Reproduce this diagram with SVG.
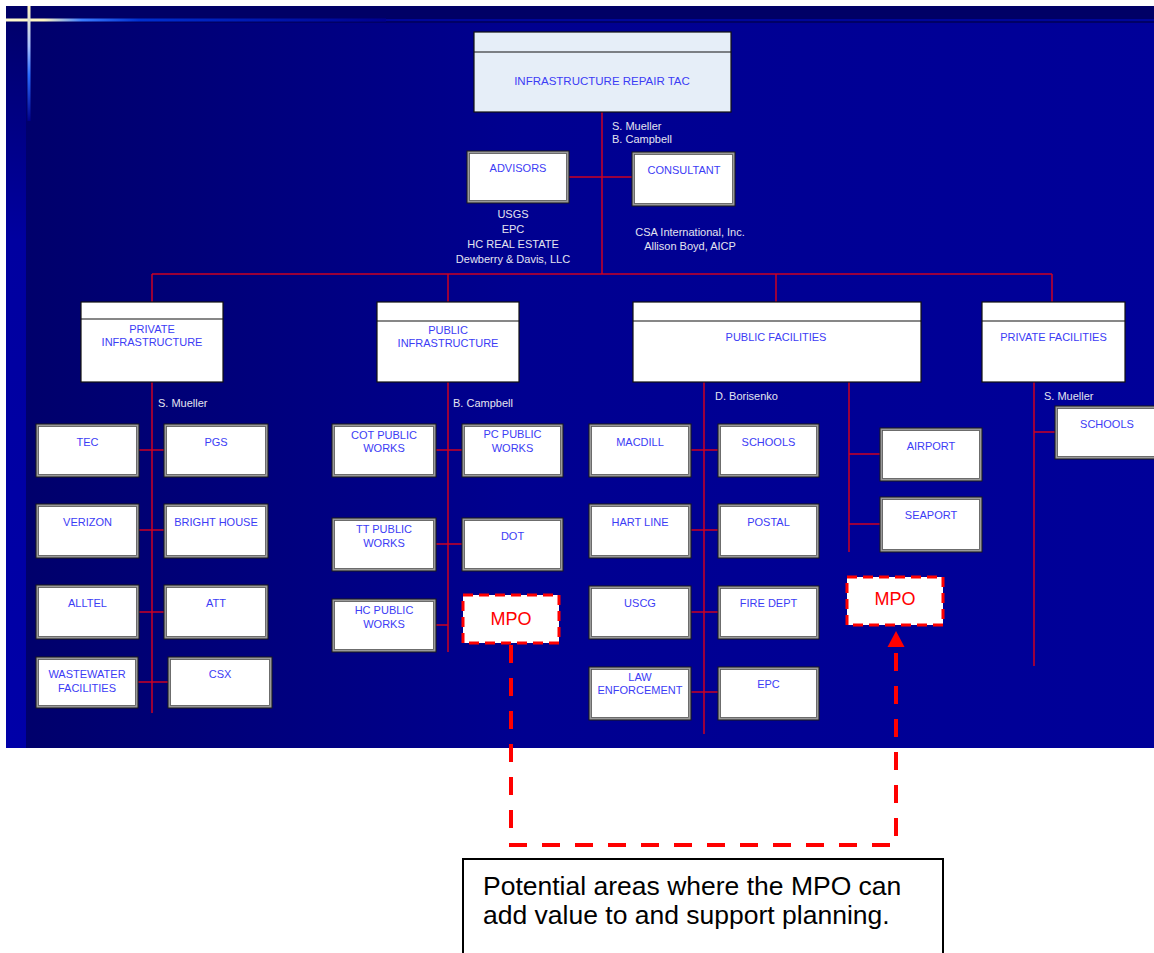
<svg xmlns="http://www.w3.org/2000/svg" width="1154" height="953" viewBox="0 0 1154 953">
<defs>
<linearGradient id="bg" x1="0" y1="0" x2="1" y2="0">
<stop offset="0" stop-color="#00006a"/>
<stop offset="0.45" stop-color="#000090"/>
<stop offset="1" stop-color="#000099"/>
</linearGradient>
<linearGradient id="strip" x1="0" y1="0" x2="0" y2="1">
<stop offset="0" stop-color="#00006c"/>
<stop offset="0.3" stop-color="#0000a0"/>
<stop offset="1" stop-color="#0000a8"/>
</linearGradient>
<linearGradient id="hglow" x1="0" y1="0" x2="1" y2="0">
<stop offset="0" stop-color="#fffbd0"/>
<stop offset="0.1" stop-color="#fff6c0"/>
<stop offset="0.2" stop-color="#3b7cff"/>
<stop offset="0.35" stop-color="#0030d0"/>
<stop offset="1" stop-color="#000090"/>
</linearGradient>
<linearGradient id="vglow" x1="0" y1="0" x2="0" y2="1">
<stop offset="0" stop-color="#fff6c0"/>
<stop offset="0.35" stop-color="#a8c0ff"/>
<stop offset="0.6" stop-color="#2a6cff"/>
<stop offset="1" stop-color="#00008a"/>
</linearGradient>
<style>
.o{fill:#9a9a9a;stroke:#1a1a1a;stroke-width:1}
.i{fill:#ffffff;stroke:#555555;stroke-width:0.8}
.h{fill:#ffffff;stroke:#111111;stroke-width:1.2}
.dv{stroke:#111111;stroke-width:1.2}
.t{font-family:"Liberation Sans",Arial,sans-serif;font-size:11px;fill:#3c3cf5;text-anchor:middle}
.w{font-family:"Liberation Sans",Arial,sans-serif;font-size:11px;fill:#e4e4f0}
.wc{text-anchor:middle}
.ln{stroke:#cc0022;stroke-width:1.5;fill:none}
.mpo{fill:#ffffff;stroke:#ff0000;stroke-width:3;stroke-dasharray:10 6}
.mt{font-family:"Liberation Sans",Arial,sans-serif;font-size:18px;fill:#ff0000;text-anchor:middle}
.dash{stroke:#ff0000;stroke-width:4;fill:none;stroke-dasharray:18 15}
.ah{fill:#ff0000}
.note{font-family:"Liberation Sans",Arial,sans-serif;font-size:26.5px;fill:#000000}
</style>
</defs>
<rect x="0" y="0" width="1154" height="953" fill="#ffffff"/>
<rect x="6" y="6" width="1148" height="742" fill="url(#bg)"/>
<rect x="6" y="6" width="1148" height="17" fill="#000066"/>
<rect x="6" y="23" width="20" height="725" fill="url(#strip)"/>
<rect x="6" y="19" width="1148" height="2" fill="#0008a8" opacity="0.8"/>
<rect x="6" y="18.5" width="380" height="3" fill="url(#hglow)"/>
<rect x="27.5" y="6" width="3" height="115" fill="url(#vglow)"/>

<g id="connectors">
<path class="ln" d="M602,112 V274 M152,274 H1052 M152,274 V302 M448,274 V302 M776,274 V302 M1052,274 V302"/>
<path class="ln" d="M569,177 H632"/>
<path class="ln" d="M152,382 V713 M139,450 H164 M139,530 H164 M139,612 H164 M138,682 H168"/>
<path class="ln" d="M448,382 V652 M436,450 H462 M436,544 H462 M436,625 H448"/>
<path class="ln" d="M704,382 V734 M691,450 H718 M691,530 H718 M691,612 H718 M691,692 H718"/>
<path class="ln" d="M849,382 V552 M849,454 H880 M849,524 H880"/>
<path class="ln" d="M1034,382 V666 M1034,432 H1055"/>
<path class="dash" d="M511,645 V845 H896 V646"/>
<polygon class="ah" points="896,631 887.5,647 904.5,647"/>
</g>

<g id="tac">
<rect x="474" y="32" width="257" height="80" fill="#e6eef8" stroke="#111" stroke-width="1.2"/>
<line class="dv" x1="474" y1="52" x2="731" y2="52"/>
<text class="t" x="602" y="85" style="font-size:11.5px">INFRASTRUCTURE REPAIR TAC</text>
</g>
<g id="tac-names">
<text class="w" x="612" y="130">S. Mueller</text>
<text class="w" x="612" y="143">B. Campbell</text>
</g>

<g id="advisors">
<rect class="o" x="467" y="151" width="102" height="52"/>
<rect class="i" x="469.5" y="153.5" width="97" height="47"/>
<text class="t" x="518" y="172">ADVISORS</text>
</g>
<g id="advisors-names">
<text class="w wc" x="513" y="218">USGS</text>
<text class="w wc" x="513" y="233">EPC</text>
<text class="w wc" x="513" y="248">HC REAL ESTATE</text>
<text class="w wc" x="513" y="263">Dewberry &amp; Davis, LLC</text>
</g>
<g id="consultant">
<rect class="o" x="632" y="152" width="103" height="54"/>
<rect class="i" x="634.5" y="154.5" width="98" height="49"/>
<text class="t" x="684" y="174">CONSULTANT</text>
</g>
<g id="consultant-names">
<text class="w wc" x="690" y="236">CSA International, Inc.</text>
<text class="w wc" x="690" y="250">Allison Boyd, AICP</text>
</g>

<g id="private-infrastructure">
<rect class="h" x="81" y="302" width="142" height="80"/>
<line class="dv" x1="81" y1="319" x2="223" y2="319"/>
<text class="t" x="152" y="333">PRIVATE</text>
<text class="t" x="152" y="346">INFRASTRUCTURE</text>
<text class="w" x="158" y="407">S. Mueller</text>
</g>
<g id="tec"><rect class="o" x="36" y="424" width="103" height="53"/><rect class="i" x="38.5" y="426.5" width="98" height="48"/><text class="t" x="87.5" y="446">TEC</text></g>
<g id="pgs"><rect class="o" x="164" y="424" width="104" height="53"/><rect class="i" x="166.5" y="426.5" width="99" height="48"/><text class="t" x="216" y="446">PGS</text></g>
<g id="verizon"><rect class="o" x="36" y="504" width="103" height="54"/><rect class="i" x="38.5" y="506.5" width="98" height="49"/><text class="t" x="87.5" y="526">VERIZON</text></g>
<g id="bright-house"><rect class="o" x="164" y="504" width="104" height="54"/><rect class="i" x="166.5" y="506.5" width="99" height="49"/><text class="t" x="216" y="526">BRIGHT HOUSE</text></g>
<g id="alltel"><rect class="o" x="36" y="585" width="103" height="54"/><rect class="i" x="38.5" y="587.5" width="98" height="49"/><text class="t" x="87.5" y="607">ALLTEL</text></g>
<g id="att"><rect class="o" x="164" y="585" width="104" height="54"/><rect class="i" x="166.5" y="587.5" width="99" height="49"/><text class="t" x="216" y="607">ATT</text></g>
<g id="wastewater"><rect class="o" x="36" y="657" width="102" height="51"/><rect class="i" x="38.5" y="659.5" width="97" height="46"/><text class="t" x="87" y="678">WASTEWATER</text><text class="t" x="87" y="692">FACILITIES</text></g>
<g id="csx"><rect class="o" x="168" y="657" width="104" height="51"/><rect class="i" x="170.5" y="659.5" width="99" height="46"/><text class="t" x="220" y="678">CSX</text></g>

<g id="public-infrastructure">
<rect class="h" x="377" y="302" width="142" height="80"/>
<line class="dv" x1="377" y1="321" x2="519" y2="321"/>
<text class="t" x="448" y="334">PUBLIC</text>
<text class="t" x="448" y="347">INFRASTRUCTURE</text>
<text class="w" x="453" y="407">B. Campbell</text>
</g>
<g id="cot"><rect class="o" x="332" y="424" width="104" height="53"/><rect class="i" x="334.5" y="426.5" width="99" height="48"/><text class="t" x="384" y="439">COT PUBLIC</text><text class="t" x="384" y="452">WORKS</text></g>
<g id="pc"><rect class="o" x="462" y="424" width="101" height="53"/><rect class="i" x="464.5" y="426.5" width="96" height="48"/><text class="t" x="512.5" y="438">PC PUBLIC</text><text class="t" x="512.5" y="452">WORKS</text></g>
<g id="tt"><rect class="o" x="332" y="518" width="104" height="53"/><rect class="i" x="334.5" y="520.5" width="99" height="48"/><text class="t" x="384" y="533">TT PUBLIC</text><text class="t" x="384" y="547">WORKS</text></g>
<g id="dot"><rect class="o" x="462" y="518" width="101" height="53"/><rect class="i" x="464.5" y="520.5" width="96" height="48"/><text class="t" x="512.5" y="540">DOT</text></g>
<g id="hc"><rect class="o" x="332" y="599" width="104" height="53"/><rect class="i" x="334.5" y="601.5" width="99" height="48"/><text class="t" x="384" y="614">HC PUBLIC</text><text class="t" x="384" y="628">WORKS</text></g>
<g id="mpo-1"><rect class="mpo" x="463" y="595" width="96" height="48"/><text class="mt" x="511" y="624.5">MPO</text></g>

<g id="public-facilities">
<rect class="h" x="633" y="302" width="288" height="80"/>
<line class="dv" x1="633" y1="321" x2="921" y2="321"/>
<text class="t" x="776" y="341">PUBLIC FACILITIES</text>
<text class="w" x="715" y="400">D. Borisenko</text>
</g>
<g id="macdill"><rect class="o" x="589" y="424" width="102" height="53"/><rect class="i" x="591.5" y="426.5" width="97" height="48"/><text class="t" x="640" y="446">MACDILL</text></g>
<g id="schools-1"><rect class="o" x="718" y="424" width="101" height="53"/><rect class="i" x="720.5" y="426.5" width="96" height="48"/><text class="t" x="768.5" y="446">SCHOOLS</text></g>
<g id="hart-line"><rect class="o" x="589" y="504" width="102" height="54"/><rect class="i" x="591.5" y="506.5" width="97" height="49"/><text class="t" x="640" y="526">HART LINE</text></g>
<g id="postal"><rect class="o" x="718" y="504" width="101" height="54"/><rect class="i" x="720.5" y="506.5" width="96" height="49"/><text class="t" x="768.5" y="526">POSTAL</text></g>
<g id="uscg"><rect class="o" x="589" y="586" width="102" height="53"/><rect class="i" x="591.5" y="588.5" width="97" height="48"/><text class="t" x="640" y="607">USCG</text></g>
<g id="fire-dept"><rect class="o" x="718" y="586" width="101" height="53"/><rect class="i" x="720.5" y="588.5" width="96" height="48"/><text class="t" x="768.5" y="607">FIRE DEPT</text></g>
<g id="law-enforcement"><rect class="o" x="589" y="667" width="102" height="53"/><rect class="i" x="591.5" y="669.5" width="97" height="48"/><text class="t" x="640" y="681">LAW</text><text class="t" x="640" y="694">ENFORCEMENT</text></g>
<g id="epc"><rect class="o" x="718" y="667" width="101" height="53"/><rect class="i" x="720.5" y="669.5" width="96" height="48"/><text class="t" x="768.5" y="688">EPC</text></g>
<g id="airport"><rect class="o" x="880" y="428" width="102" height="53"/><rect class="i" x="882.5" y="430.5" width="97" height="48"/><text class="t" x="931" y="450">AIRPORT</text></g>
<g id="seaport"><rect class="o" x="880" y="497" width="102" height="55"/><rect class="i" x="882.5" y="499.5" width="97" height="50"/><text class="t" x="931" y="519">SEAPORT</text></g>
<g id="mpo-2"><rect class="mpo" x="847" y="577" width="96" height="48"/><text class="mt" x="895" y="604.5">MPO</text></g>

<g id="private-facilities">
<rect class="h" x="982" y="302" width="143" height="80"/>
<line class="dv" x1="982" y1="321" x2="1125" y2="321"/>
<text class="t" x="1053.5" y="341">PRIVATE FACILITIES</text>
<text class="w" x="1044" y="400">S. Mueller</text>
</g>
<g id="schools-2"><rect class="o" x="1055" y="406" width="104" height="53"/><rect class="i" x="1057.5" y="408.5" width="99" height="48"/><text class="t" x="1107" y="428">SCHOOLS</text></g>

<g id="note">
<rect x="463" y="859" width="480" height="110" fill="#ffffff" stroke="#000000" stroke-width="2"/>
<text class="note" x="483" y="895">Potential areas where the MPO can</text>
<text class="note" x="483" y="924">add value to and support planning.</text>
</g>
</svg>
